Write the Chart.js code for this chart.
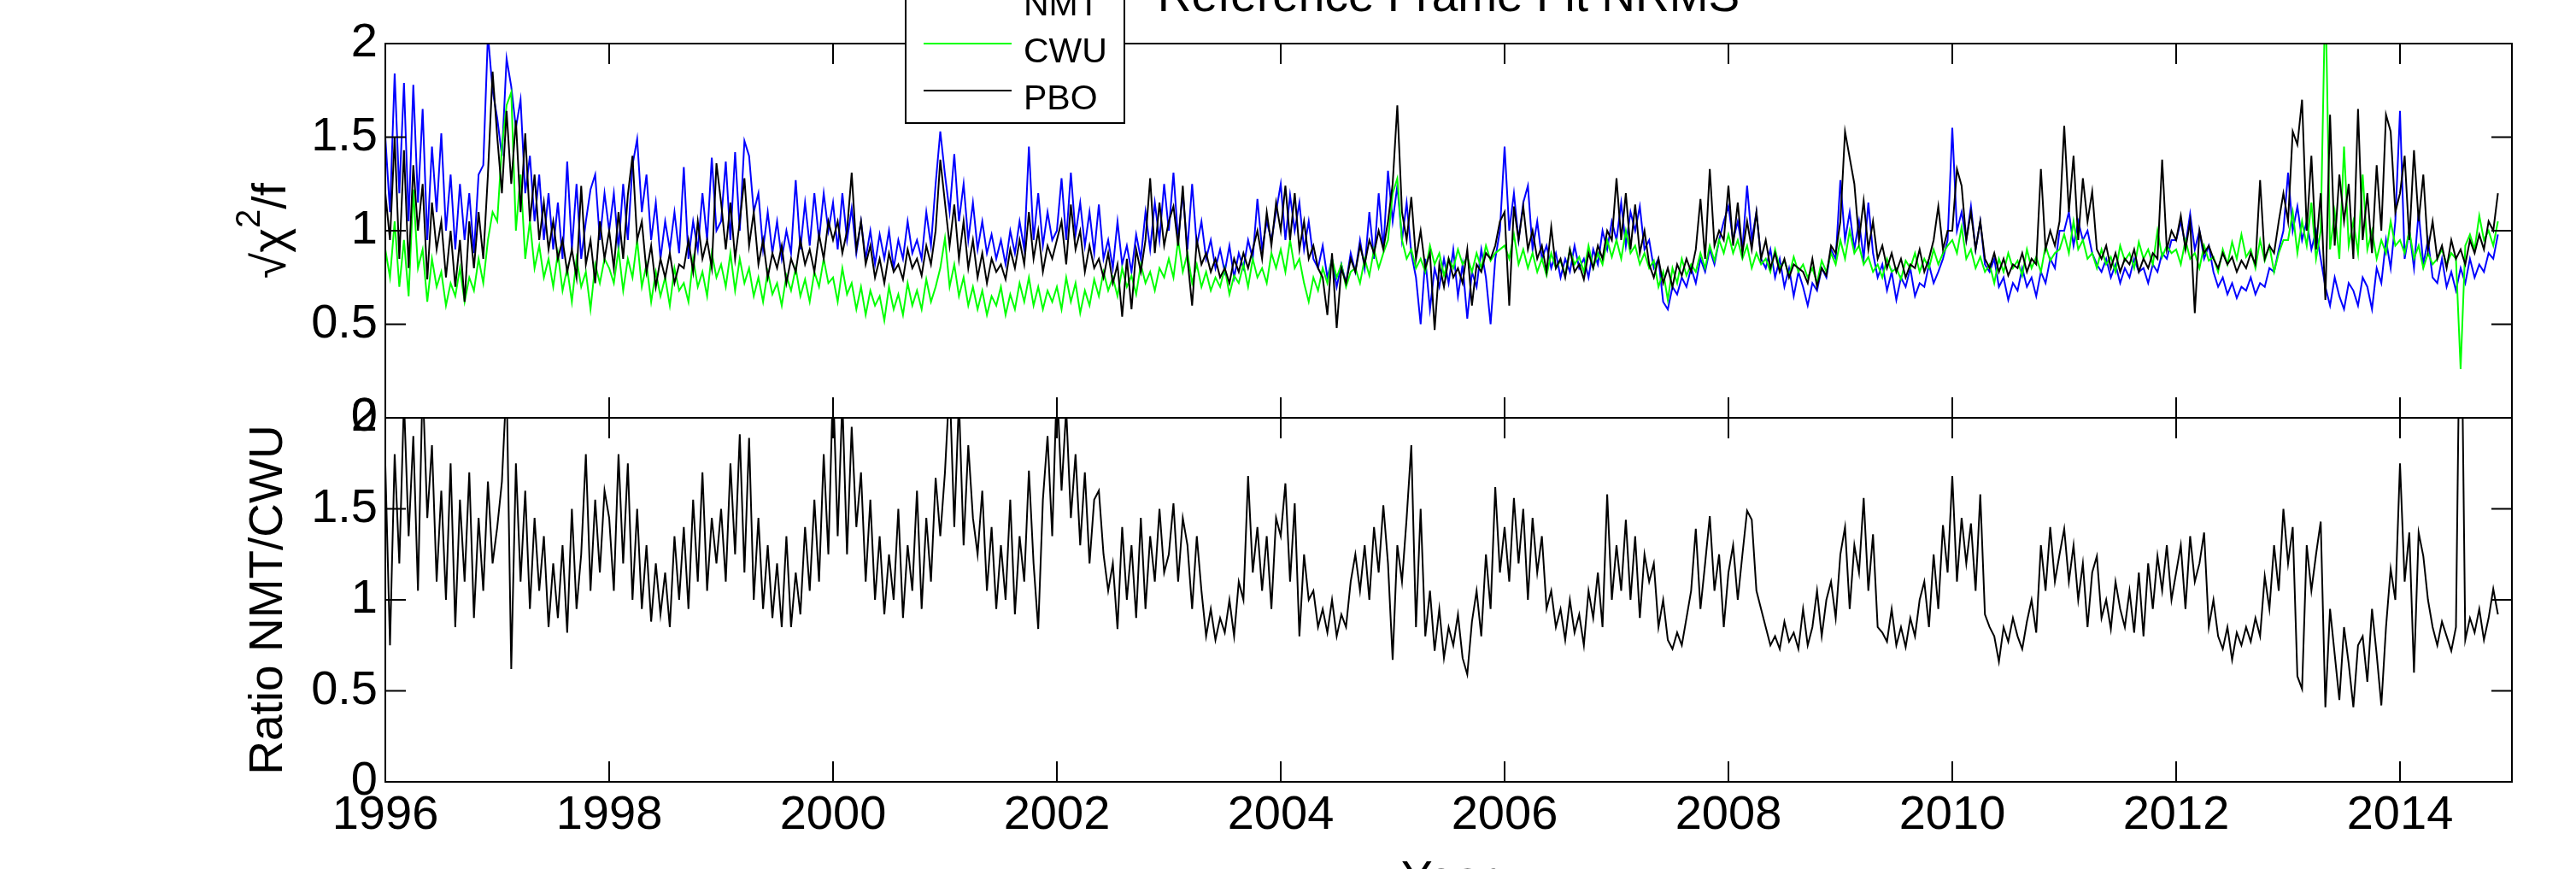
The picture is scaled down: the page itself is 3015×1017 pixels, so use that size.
<!DOCTYPE html>
<html>
<head>
<meta charset="utf-8">
<title>Reference Frame Fit NRMS</title>
<script src="https://cdn.jsdelivr.net/npm/chart.js@4.4.1/dist/chart.umd.min.js"></script>
<style>
  html, body { margin: 0; padding: 0; background: #fff; overflow: hidden; }
  #fig { position: relative; width: 3015px; height: 1017px; overflow: hidden; }
  #fig canvas { position: absolute; left: 0; top: 0; }
</style>
</head>
<body>
<div id="fig">
  <canvas id="chartNrms" width="3015" height="1017"></canvas>
  <canvas id="chartRatio" width="3015" height="1017"></canvas>
</div>
<script>
/* ── data: semi-monthly samples, 24 per year, from 1996.0 ── */
const START_YEAR = 1996;
const PER_YEAR = 24;
const yearTicks = [1996, 1998, 2000, 2002, 2004, 2006, 2008, 2010, 2012, 2014];
const seriesNames = ['NMT', 'CWU', 'PBO'];
const seriesColors = ['#0000ff', '#00ff00', '#000000'];

const nmt = [
  1.50,1.10,1.84,1.20,1.79,1.05,1.78,1.15,1.65,0.95,1.45,1.10,1.52,1.00,1.30,0.90,1.25,0.95,1.20,0.88,1.30,1.35,2.05,1.75, // 1996
  1.60,1.40,1.92,1.77,1.55,1.70,1.20,1.40,1.05,1.30,0.95,1.20,0.90,1.15,0.85,1.37,0.90,1.25,0.85,1.05,1.22,1.30,0.95,1.20, // 1997
  1.00,1.20,0.90,1.25,0.95,1.35,1.49,1.10,1.30,0.95,1.15,0.85,1.05,0.90,1.10,0.88,1.34,0.85,1.05,0.90,1.20,0.95,1.39,1.00, // 1998
  1.05,1.37,0.95,1.42,1.00,1.48,1.40,1.10,1.20,0.90,1.10,0.88,1.05,0.85,1.00,0.88,1.27,0.90,1.15,0.92,1.20,0.95,1.20,1.00, // 1999
  1.15,0.90,1.20,0.95,1.12,0.88,1.05,0.85,1.00,0.82,0.98,0.85,1.00,0.80,0.95,0.85,1.05,0.88,0.95,0.85,1.10,0.92,1.25,1.53, // 2000
  1.30,1.10,1.41,1.05,1.25,0.95,1.15,0.90,1.05,0.88,0.98,0.85,0.95,0.82,1.00,0.88,1.05,0.90,1.45,0.95,1.20,0.92,1.10,0.95, // 2001
  1.00,1.28,0.95,1.31,0.98,1.15,0.92,1.10,0.88,1.14,0.85,0.95,0.80,1.05,0.82,0.92,0.78,0.98,0.85,1.10,0.90,1.15,0.95,1.25, // 2002
  1.00,1.31,0.95,1.20,0.90,1.25,0.92,1.05,0.85,0.95,0.80,0.90,0.78,0.92,0.75,0.88,0.80,0.95,0.85,1.17,0.90,1.05,0.95,1.10, // 2003
  1.25,0.95,1.19,1.00,1.15,0.90,1.05,0.85,0.80,0.92,0.75,0.85,0.70,0.82,0.72,0.88,0.78,0.95,0.80,1.10,0.85,1.20,0.90,1.32, // 2004
  1.05,1.24,0.95,1.15,0.88,0.75,0.50,0.85,0.58,0.80,0.70,0.85,0.72,0.90,0.65,0.82,0.53,0.78,0.70,0.90,0.75,0.50,0.85,1.00, // 2005
  1.45,1.00,1.20,0.95,1.15,1.24,0.90,1.05,0.85,0.92,0.80,0.88,0.75,0.85,0.78,0.92,0.80,0.85,0.75,0.90,0.82,1.00,0.90,1.05, // 2006
  0.95,1.15,0.92,1.10,1.00,1.13,0.90,0.95,0.80,0.85,0.62,0.58,0.70,0.66,0.75,0.70,0.80,0.72,0.85,0.78,0.90,0.82,0.95,1.05, // 2007
  1.13,0.95,1.05,0.90,1.24,0.95,1.10,0.85,0.80,0.90,0.75,0.85,0.70,0.80,0.65,0.78,0.70,0.60,0.72,0.68,0.80,0.75,0.90,0.85, // 2008
  1.27,0.95,1.10,0.90,1.05,0.85,1.15,0.88,0.75,0.82,0.68,0.78,0.63,0.75,0.70,0.80,0.65,0.72,0.70,0.82,0.72,0.78,0.85,0.95, // 2009
  1.55,1.00,1.10,0.95,1.13,0.90,1.05,0.82,0.78,0.85,0.70,0.75,0.63,0.72,0.68,0.80,0.70,0.75,0.65,0.78,0.72,0.85,0.80,1.00, // 2010
  1.00,1.10,0.92,1.05,0.95,1.00,0.88,0.82,0.78,0.85,0.75,0.82,0.72,0.80,0.75,0.85,0.78,0.80,0.72,0.82,0.78,0.88,0.85,0.95, // 2011
  0.95,1.05,0.92,1.09,0.90,1.00,0.85,0.92,0.78,0.70,0.75,0.66,0.72,0.64,0.70,0.68,0.75,0.66,0.72,0.70,0.80,0.78,0.90,1.00, // 2012
  1.31,1.00,1.13,0.95,1.05,0.90,1.00,0.85,0.70,0.60,0.75,0.65,0.58,0.72,0.68,0.60,0.75,0.70,0.58,0.80,0.72,0.95,0.80,1.05, // 2013
  1.64,0.85,1.00,0.80,1.10,0.82,0.95,0.75,0.72,0.85,0.70,0.78,0.68,0.80,0.72,0.85,0.75,0.82,0.78,0.88,0.85,0.98            // 2014
];

const cwu = [
  0.90,0.75,1.05,0.70,0.95,0.65,1.22,0.80,0.90,0.62,0.85,0.70,0.78,0.60,0.72,0.65,0.80,0.62,0.75,0.68,0.85,0.72,0.95,1.10, // 1996
  1.05,1.45,1.67,1.74,1.00,1.30,0.85,1.05,0.80,0.92,0.75,0.85,0.70,0.88,0.68,0.80,0.62,0.85,0.70,0.78,0.58,0.82,0.72,0.85, // 1997
  0.80,0.72,0.90,0.68,0.85,0.75,0.95,0.70,0.82,0.62,0.78,0.65,0.75,0.60,0.80,0.68,0.72,0.62,0.85,0.70,0.78,0.65,0.88,0.75, // 1998
  0.82,0.70,0.88,0.68,0.85,0.72,0.80,0.65,0.75,0.62,0.78,0.66,0.72,0.60,0.76,0.68,0.80,0.65,0.74,0.62,0.78,0.70,0.85,0.72, // 1999
  0.75,0.62,0.80,0.66,0.72,0.58,0.70,0.55,0.68,0.60,0.65,0.52,0.70,0.58,0.66,0.55,0.72,0.60,0.68,0.58,0.74,0.62,0.70,0.80, // 2000
  0.96,0.70,0.82,0.65,0.75,0.60,0.70,0.58,0.68,0.55,0.65,0.60,0.70,0.55,0.66,0.58,0.72,0.62,0.75,0.60,0.70,0.58,0.68,0.62, // 2001
  0.70,0.58,0.75,0.62,0.72,0.56,0.68,0.60,0.74,0.65,0.78,0.68,0.75,0.65,0.80,0.70,0.76,0.66,0.82,0.72,0.78,0.68,0.80,0.75, // 2002
  0.85,0.75,0.95,0.78,0.88,0.72,0.82,0.70,0.78,0.68,0.75,0.70,0.80,0.66,0.76,0.72,0.82,0.70,0.85,0.75,0.80,0.72,0.88,0.80, // 2003
  0.90,0.78,0.95,0.80,0.85,0.72,0.62,0.75,0.68,0.80,0.72,0.85,0.75,0.82,0.70,0.78,0.80,0.72,0.85,0.76,0.90,0.80,0.88,0.95, // 2004
  1.20,1.28,0.95,0.85,0.90,0.80,0.85,0.78,0.92,0.82,0.88,0.76,0.85,0.80,0.90,0.82,0.86,0.78,0.88,0.80,0.92,0.84,0.88,0.90, // 2005
  0.92,0.85,0.98,0.82,0.90,0.80,0.88,0.78,0.85,0.76,0.88,0.80,0.84,0.76,0.90,0.82,0.86,0.78,0.92,0.80,0.88,0.82,0.95,0.86, // 2006
  0.95,0.85,1.00,0.88,0.92,0.82,0.88,0.80,0.84,0.70,0.78,0.63,0.80,0.72,0.85,0.76,0.82,0.78,0.88,0.80,0.92,0.84,0.95,0.88, // 2007
  0.98,0.88,0.95,0.85,0.92,0.80,0.88,0.82,0.85,0.78,0.90,0.80,0.84,0.76,0.86,0.78,0.82,0.75,0.80,0.72,0.84,0.78,0.88,0.82, // 2008
  0.95,0.85,1.00,0.88,0.92,0.82,0.86,0.78,0.82,0.75,0.85,0.78,0.80,0.74,0.84,0.80,0.88,0.78,0.85,0.80,0.90,0.82,0.88,0.92, // 2009
  0.95,0.88,1.02,0.85,0.90,0.80,0.86,0.78,0.82,0.72,0.85,0.78,0.88,0.80,0.84,0.76,0.90,0.80,0.86,0.78,0.92,0.84,0.88,0.90, // 2010
  0.98,0.88,1.05,0.90,0.95,0.85,0.88,0.80,0.90,0.82,0.86,0.78,0.92,0.84,0.88,0.80,0.94,0.85,0.90,0.82,1.00,0.86,0.92,0.88, // 2011
  0.90,0.82,0.95,0.85,0.88,0.80,0.92,0.84,0.86,0.78,0.90,0.82,0.94,0.85,0.98,0.86,0.90,0.80,0.95,0.84,0.92,0.78,0.88,0.95, // 2012
  0.95,1.10,0.88,1.05,0.92,1.15,0.85,1.00,2.30,0.90,1.10,0.85,1.45,0.92,1.05,0.88,1.30,0.90,1.00,0.85,0.95,0.88,1.05,0.92, // 2013
  0.95,0.88,1.00,0.85,0.92,0.80,0.88,0.82,0.85,0.90,0.82,0.88,0.85,0.26,0.92,0.98,0.90,1.08,0.95,1.00,0.92,1.05            // 2014
];

const pbo = [
  1.20,0.95,1.50,0.85,1.43,0.80,1.35,1.00,1.25,0.74,1.15,0.90,1.05,0.75,1.00,0.70,0.95,0.62,1.05,0.80,1.10,0.85,1.30,1.85, // 1996
  1.50,1.20,1.64,1.25,1.59,1.10,1.52,1.05,1.30,0.95,1.15,0.90,1.05,0.85,0.95,0.78,0.90,0.75,1.24,0.82,0.95,0.72,1.05,0.85, // 1997
  1.00,0.80,1.10,0.85,1.19,1.40,0.95,1.05,0.78,0.92,0.70,0.85,0.75,0.88,0.72,0.82,0.80,0.95,0.78,1.05,0.85,0.95,0.80,1.36, // 1998
  1.15,0.90,1.15,0.85,1.05,1.28,0.92,1.10,0.82,0.95,0.75,0.88,0.80,0.92,0.72,0.85,0.78,0.95,0.82,0.90,0.78,0.98,0.85,1.05, // 1999
  0.95,1.05,0.88,1.00,1.31,0.90,1.05,0.82,0.92,0.75,0.85,0.72,0.88,0.78,0.82,0.74,0.90,0.80,0.85,0.76,0.92,0.82,1.00,1.38, // 2000
  1.15,0.92,1.14,0.85,1.05,0.80,0.95,0.75,0.88,0.72,0.85,0.78,0.82,0.74,0.90,0.80,0.95,0.82,1.10,0.85,1.00,0.78,0.92,0.85, // 2001
  0.95,1.05,0.82,1.14,0.90,1.00,0.78,0.92,0.80,0.85,0.75,0.88,0.72,0.82,0.54,0.85,0.58,0.90,0.78,0.95,1.28,0.88,1.15,0.92, // 2002
  1.05,1.13,0.92,1.24,0.85,0.60,0.95,0.82,0.88,0.78,0.85,0.75,0.80,0.72,0.85,0.78,0.88,0.80,0.90,1.00,0.85,1.10,0.92,1.15, // 2003
  1.00,1.24,0.95,1.20,0.90,1.05,0.85,0.92,0.80,0.75,0.55,0.88,0.48,0.80,0.72,0.85,0.78,0.92,0.82,0.95,0.88,1.00,0.90,1.05, // 2004
  1.25,1.67,1.10,0.95,1.18,0.85,1.00,0.80,0.88,0.47,0.82,0.70,0.85,0.75,0.80,0.72,0.90,0.60,0.82,0.78,0.88,0.85,0.92,1.05, // 2005
  1.10,0.60,1.13,0.95,1.13,0.90,1.00,0.85,0.92,0.78,1.02,0.80,0.85,0.75,0.90,0.78,0.82,0.74,0.88,0.80,0.92,0.85,1.00,0.95, // 2006
  1.28,0.95,1.20,0.90,1.14,0.88,1.00,0.82,0.75,0.85,0.72,0.80,0.70,0.82,0.76,0.85,0.78,0.90,1.17,0.85,1.33,0.92,1.00,0.95, // 2007
  1.24,0.92,1.15,0.88,1.05,0.90,1.10,0.85,0.95,0.80,0.88,0.78,0.85,0.75,0.82,0.80,0.78,0.72,0.85,0.70,0.80,0.76,0.92,0.88, // 2008
  1.05,1.53,1.39,1.25,0.95,1.16,0.90,1.05,0.85,0.92,0.80,0.88,0.78,0.85,0.75,0.82,0.80,0.90,0.78,0.85,0.95,1.13,0.90,1.00, // 2009
  1.00,1.33,1.24,0.95,1.10,0.90,1.05,0.85,0.80,0.88,0.78,0.85,0.76,0.82,0.80,0.88,0.78,0.85,0.82,1.33,0.90,1.00,0.92,1.05, // 2010
  1.56,1.10,1.40,0.95,1.28,1.05,1.21,0.90,0.85,0.92,0.80,0.88,0.78,0.85,0.82,0.90,0.78,0.85,0.80,0.88,0.85,1.38,0.90,1.00, // 2011
  0.95,1.08,0.90,1.05,0.56,1.00,0.88,0.92,0.85,0.80,0.88,0.82,0.86,0.78,0.84,0.80,0.88,0.82,1.27,0.85,0.92,0.88,1.05,1.20, // 2012
  1.05,1.53,1.46,1.70,1.00,1.40,0.90,1.20,0.63,1.62,0.92,1.30,1.05,1.25,0.85,1.65,0.95,1.20,0.88,1.35,1.00,1.62,1.53,1.10, // 2013
  1.20,1.40,0.95,1.43,1.05,1.30,0.90,1.05,0.85,0.92,0.80,0.95,0.85,0.90,0.82,0.95,0.88,0.98,0.90,1.05,1.00,1.20            // 2014
];

const ratio = [
  1.74,0.75,1.80,1.20,2.10,1.35,1.90,1.05,2.20,1.45,1.85,1.10,1.60,1.00,1.75,0.85,1.55,1.10,1.70,0.90,1.45,1.05,1.65,1.20, // 1996
  1.40,1.65,2.20,0.62,1.75,1.10,1.60,0.95,1.45,1.05,1.35,0.85,1.20,0.90,1.30,0.82,1.50,0.95,1.25,1.80,1.05,1.55,1.15,1.60, // 1997
  1.45,1.05,1.80,1.20,1.75,1.00,1.50,0.95,1.30,0.88,1.20,0.92,1.15,0.85,1.35,1.00,1.40,0.95,1.55,1.10,1.70,1.05,1.45,1.20, // 1998
  1.50,1.10,1.75,1.25,1.91,1.15,1.89,1.00,1.45,0.95,1.30,0.90,1.20,0.85,1.35,0.85,1.15,0.92,1.40,1.05,1.55,1.10,1.80,1.25, // 1999
  2.20,1.35,2.10,1.25,1.95,1.40,1.70,1.10,1.55,1.00,1.35,0.92,1.25,1.00,1.50,0.90,1.30,1.05,1.60,0.95,1.45,1.10,1.67,1.35, // 2000
  1.70,2.20,1.40,2.10,1.30,1.85,1.45,1.25,1.60,1.05,1.40,0.95,1.30,1.00,1.55,0.92,1.35,1.10,1.71,1.20,0.84,1.55,1.90,1.35, // 2001
  2.20,1.60,2.05,1.45,1.80,1.30,1.70,1.20,1.55,1.60,1.25,1.05,1.20,0.84,1.40,1.00,1.30,0.90,1.45,0.95,1.35,1.10,1.50,1.15, // 2002
  1.25,1.53,1.10,1.45,1.30,0.95,1.35,1.05,0.80,0.95,0.78,0.90,0.82,1.00,0.80,1.10,1.00,1.68,1.15,1.40,1.05,1.35,0.95,1.45, // 2003
  1.35,1.64,1.10,1.53,0.80,1.25,1.00,1.05,0.85,0.95,0.82,1.00,0.80,0.92,0.85,1.10,1.25,1.05,1.30,1.00,1.40,1.15,1.52,1.20, // 2004
  0.67,1.30,1.10,1.45,1.85,0.85,1.50,0.80,1.05,0.72,0.95,0.68,0.85,0.75,0.92,0.68,0.59,0.88,1.05,0.80,1.25,0.95,1.62,1.15, // 2005
  1.40,1.10,1.56,1.20,1.50,1.00,1.45,1.15,1.35,0.95,1.05,0.85,0.95,0.78,1.00,0.82,0.92,0.75,1.05,0.90,1.15,0.85,1.58,1.00, // 2006
  1.30,1.05,1.44,1.00,1.35,0.90,1.25,1.10,1.20,0.85,1.00,0.78,0.73,0.82,0.75,0.90,1.05,1.39,0.95,1.20,1.46,1.05,1.25,0.85, // 2007
  1.15,1.30,1.00,1.25,1.49,1.44,1.05,0.95,0.85,0.75,0.80,0.73,0.88,0.77,0.82,0.73,0.95,0.75,0.85,1.05,0.80,1.00,1.10,0.90, // 2008
  1.25,1.40,0.95,1.30,1.15,1.56,1.05,1.36,0.85,0.82,0.77,0.95,0.75,0.85,0.74,0.90,0.80,1.00,1.10,0.85,1.25,0.95,1.41,1.15, // 2009
  1.68,1.10,1.45,1.20,1.42,1.05,1.58,0.92,0.85,0.80,0.66,0.85,0.77,0.90,0.80,0.73,0.88,1.00,0.82,1.30,1.05,1.40,1.10,1.25, // 2010
  1.39,1.10,1.30,1.00,1.20,0.85,1.15,1.24,0.90,1.00,0.84,1.10,0.95,0.85,1.05,0.82,1.15,0.80,1.20,0.95,1.24,1.05,1.30,1.00, // 2011
  1.15,1.30,0.95,1.35,1.10,1.20,1.37,0.85,1.00,0.80,0.73,0.85,0.67,0.82,0.75,0.85,0.77,0.90,0.80,1.13,0.95,1.30,1.05,1.50, // 2012
  1.20,1.40,0.58,0.51,1.30,1.05,1.25,1.43,0.41,0.95,0.70,0.45,0.85,0.65,0.41,0.75,0.80,0.55,0.95,0.70,0.42,0.85,1.17,1.00, // 2013
  1.75,1.10,1.37,0.60,1.37,1.24,1.00,0.85,0.75,0.88,0.80,0.72,0.85,3.00,0.78,0.90,0.82,0.95,0.78,0.90,1.06,0.92            // 2014
];

/* ── setup ── */
const FONT = "'Liberation Sans', Arial, Helvetica, sans-serif";
Chart.defaults.font.family = FONT;
Chart.defaults.color = '#000';

const epochs = nmt.map((_, i) => START_YEAR + i / PER_YEAR);
const pts = arr => arr.map((v, i) => ({ x: epochs[i], y: v }));
const TICK = 24;
const TICK_FONT = 56;

function xScale(showLabels) {
  return {
    type: 'linear', min: 1996, max: 2015,
    afterBuildTicks: s => { s.ticks = yearTicks.map(v => ({ value: v })); },
    ticks: { display: showLabels, padding: 6, font: { size: TICK_FONT }, color: '#000', maxRotation: 0, autoSkip: false, callback: v => String(v) },
    grid: { display: false, drawTicks: false },
    border: { display: false },
    afterFit: s => { s.height = showLabels ? 102 : 0; }
  };
}

function yScale(title) {
  return {
    min: 0, max: 2,
    ticks: { stepSize: 0.5, padding: 9, font: { size: TICK_FONT }, color: '#000', callback: v => String(v) },
    grid: { display: false, drawTicks: false },
    border: { display: false },
    title: { display: !!title, text: title || '', font: { size: 55 }, color: '#000', padding: { top: 282, bottom: 0 } },
    afterFit: s => { s.width = 451; }
  };
}

// box round the plot area, ticks pointing inwards on all four sides
const frame = {
  id: 'frame',
  afterDatasetsDraw(chart) {
    const { ctx, chartArea: a, scales: { x, y } } = chart;
    ctx.save();
    ctx.strokeStyle = '#000';
    ctx.lineWidth = 2;
    ctx.strokeRect(a.left, a.top, a.right - a.left, a.bottom - a.top);
    ctx.beginPath();
    x.ticks.forEach(t => {
      const px = x.getPixelForValue(t.value);
      ctx.moveTo(px, a.top); ctx.lineTo(px, a.top + TICK);
      ctx.moveTo(px, a.bottom); ctx.lineTo(px, a.bottom - TICK);
    });
    y.ticks.forEach(t => {
      const py = y.getPixelForValue(t.value);
      ctx.moveTo(a.left, py); ctx.lineTo(a.left + TICK, py);
      ctx.moveTo(a.right, py); ctx.lineTo(a.right - TICK, py);
    });
    ctx.stroke();
    ctx.restore();
  }
};

// y label of the upper panel: sqrt chi, superscript 2, /f
const chiLabel = {
  id: 'chiLabel',
  afterDraw(chart) {
    const { ctx, chartArea: a } = chart;
    const cy = (a.top + a.bottom) / 2;
    const big = `55px ${FONT}`, small = `40px ${FONT}`;
    ctx.save();
    ctx.font = big;
    const w1 = ctx.measureText('√χ').width;
    const w3 = ctx.measureText('/f').width;
    ctx.font = small;
    const w2 = ctx.measureText('2').width;
    ctx.translate(334, cy);
    ctx.rotate(-Math.PI / 2);
    ctx.fillStyle = '#000';
    ctx.textAlign = 'left';
    ctx.textBaseline = 'alphabetic';
    let x0 = -(w1 + w2 + w3) / 2;
    ctx.font = big; ctx.fillText('√χ', x0, 0); x0 += w1;
    ctx.font = small; ctx.fillText('2', x0, -30); x0 += w2;
    ctx.font = big; ctx.fillText('/f', x0, 0);
    ctx.restore();
  }
};

// figure title, legend box and x label (partly outside the window, as in the original)
const figureText = {
  id: 'figureText',
  afterDraw(chart) {
    const { ctx, chartArea: a } = chart;
    const cx = (a.left + a.right) / 2;
    ctx.save();
    ctx.fillStyle = '#000';
    ctx.textAlign = 'center';
    ctx.textBaseline = 'alphabetic';
    ctx.font = `55px ${FONT}`;
    ctx.fillText('Reference Frame Fit NRMS', cx, 13);
    ctx.fillText('Year', cx, 1046);

    const box = { left: 1060, top: -62, width: 256, height: 206 };
    ctx.fillStyle = '#fff';
    ctx.fillRect(box.left, box.top, box.width, box.height);
    ctx.strokeStyle = '#000';
    ctx.lineWidth = 2;
    ctx.strokeRect(box.left, box.top, box.width, box.height);

    ctx.font = `41px ${FONT}`;
    ctx.textAlign = 'left';
    seriesNames.forEach((name, i) => {
      const ly = -4 + i * 55;
      ctx.strokeStyle = seriesColors[i];
      ctx.lineWidth = 2;
      ctx.beginPath();
      ctx.moveTo(1081, ly); ctx.lineTo(1184, ly);
      ctx.stroke();
      ctx.fillStyle = '#000';
      ctx.fillText(name, 1198, ly + 22);
    });
    ctx.restore();
  }
};

const lineDs = (label, data, color, order) => ({
  label, data: pts(data), borderColor: color, borderWidth: 2,
  pointRadius: 0, tension: 0, fill: false, clip: 0, order
});

const common = {
  responsive: false,
  animation: false,
  events: [],
  plugins: { legend: { display: false }, tooltip: { enabled: false } }
};

new Chart(document.getElementById('chartNrms'), {
  type: 'line',
  data: {
    datasets: [
      lineDs('NMT', nmt, seriesColors[0], 3),
      lineDs('CWU', cwu, seriesColors[1], 2),
      lineDs('PBO', pbo, seriesColors[2], 1)
    ]
  },
  options: {
    ...common,
    layout: { padding: { left: 0, right: 75, top: 51, bottom: 528 } },
    scales: { x: xScale(false), y: yScale(null) }
  },
  plugins: [frame, chiLabel]
});

new Chart(document.getElementById('chartRatio'), {
  type: 'line',
  data: { datasets: [lineDs('NMT/CWU', ratio, '#000000', 1)] },
  options: {
    ...common,
    layout: { padding: { left: 0, right: 75, top: 489, bottom: 0 } },
    scales: { x: xScale(true), y: yScale('Ratio NMT/CWU') }
  },
  plugins: [frame, figureText]
});
</script>
</body>
</html>
